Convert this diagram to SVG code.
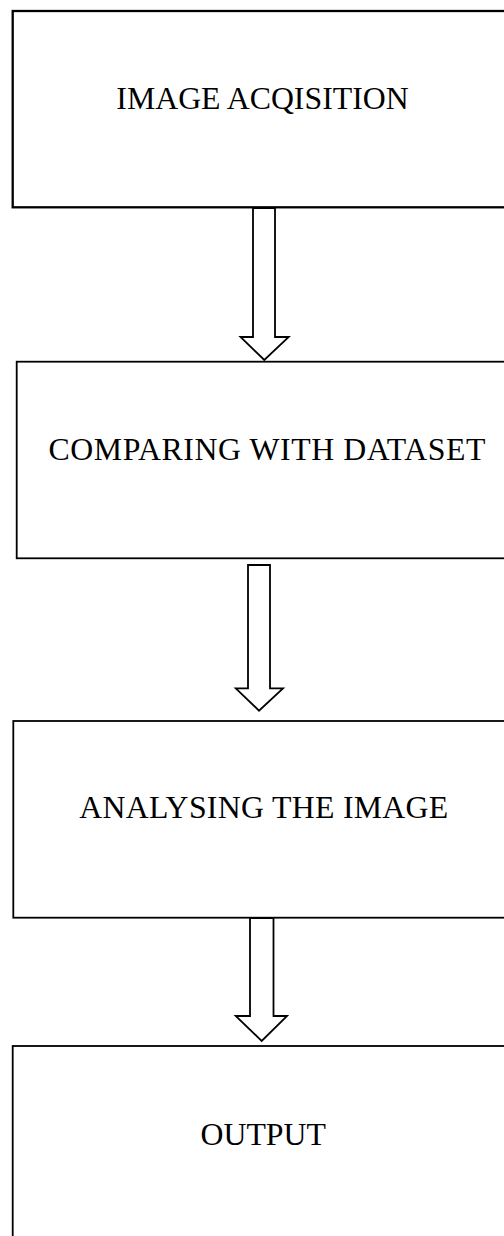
<svg xmlns="http://www.w3.org/2000/svg" width="504" height="1236" viewBox="0 0 504 1236">
<style>
.box{fill:#fff;stroke:#000;stroke-width:1.8}
.arr{fill:#fff;stroke:#000;stroke-width:1.8;stroke-linejoin:miter}
.lbl{font-family:"Liberation Serif","Times New Roman",serif;font-size:31.8px;fill:#000;text-anchor:middle}
</style>
<rect width="504" height="1236" fill="#fff"/>
<g id="node1">
<rect class="box" x="12.7" y="11" width="520" height="196.3" style="stroke-width:2.3"/>
<text class="lbl" x="262.5" y="108.7">IMAGE ACQISITION</text>
</g>
<g id="node2">
<rect class="box" x="16.7" y="361.7" width="520" height="196.6"/>
<text class="lbl" x="267" y="459.5" textLength="437" lengthAdjust="spacing">COMPARING WITH DATASET</text>
</g>
<g id="node3">
<rect class="box" x="13.3" y="721" width="520" height="196.7"/>
<text class="lbl" x="263.8" y="818.3" textLength="369" lengthAdjust="spacing">ANALYSING THE IMAGE</text>
</g>
<g id="node4">
<rect class="box" x="12.7" y="1046" width="520" height="260"/>
<text class="lbl" x="263.2" y="1145">OUTPUT</text>
</g>
<g id="connectors">
<path class="arr" d="M253,208 V337 H240.5 L264.3,360 L288.7,337 H275 V208 Z"/>
<path class="arr" d="M248,565 V688.3 H235.8 L259,710.7 L283,688.3 H270 V565 Z"/>
<path class="arr" d="M250,918 V1016 H235.8 L261.7,1041 L287,1016 H273.5 V918 Z"/>
</g>
</svg>
